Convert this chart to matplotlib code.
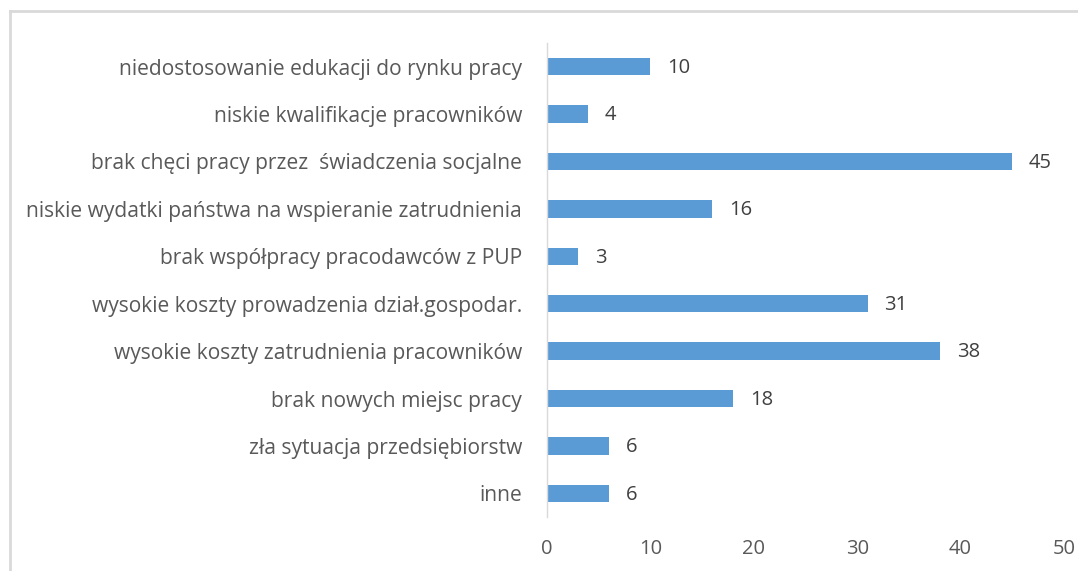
import numpy as np
import matplotlib.pyplot as plt
from matplotlib.lines import Line2D

categories = [
    'niedostosowanie edukacji do rynku pracy',
    'niskie kwalifikacje pracowników',
    'brak chęci pracy przez  świadczenia socjalne',
    'niskie wydatki państwa na wspieranie zatrudnienia',
    'brak współpracy pracodawców z PUP',
    'wysokie koszty prowadzenia dział.gospodar.',
    'wysokie koszty zatrudnienia pracowników',
    'brak nowych miejsc pracy',
    'zła sytuacja przedsiębiorstw',
    'inne',
]
values = [10, 4, 45, 16, 3, 31, 38, 18, 6, 6]
xticks = [0, 10, 20, 30, 40, 50]

plt.rcParams['font.family'] = ['Open Sans', 'DejaVu Sans']

fig = plt.figure(figsize=(10.78, 5.71), dpi=100)
ax = fig.add_axes([547 / 1078, 1 - 517 / 571, (1064 - 547) / 1078, (517 - 43) / 571])

y = np.arange(len(categories))
ax.barh(y, values, height=0.37, color='#5B9BD5')
ax.set_ylim(len(categories) - 0.5, -0.5)
ax.set_xlim(0, 50)
ax.set_yticks(y)
ax.set_yticklabels(categories, fontsize=15.1, color='#595959')
ax.set_xticks(xticks)
ax.set_xticklabels([str(t) for t in xticks], fontsize=14.5, color='#595959')
ax.tick_params(axis='both', length=0)
ax.tick_params(axis='y', pad=18)
ax.tick_params(axis='x', pad=16)

for s in ['top', 'right', 'bottom']:
    ax.spines[s].set_visible(False)
ax.spines['left'].set_color('#D9D9D9')
ax.spines['left'].set_linewidth(1)

for yi, v in zip(y, values):
    ax.annotate(str(v), (v, yi), xytext=(12, -1), textcoords='offset points',
                va='center', ha='left', fontsize=14.5, color='#404040')

# outer chart frame (only left and top visible in crop)
fig.add_artist(Line2D([10 / 1078, 10 / 1078], [0, 1 - 11 / 571], transform=fig.transFigure,
                      color='#D9D9D9', lw=2))
fig.add_artist(Line2D([10 / 1078, 1], [1 - 11 / 571, 1 - 11 / 571], transform=fig.transFigure,
                      color='#D9D9D9', lw=2))

fig.savefig('out.png', dpi=100)
